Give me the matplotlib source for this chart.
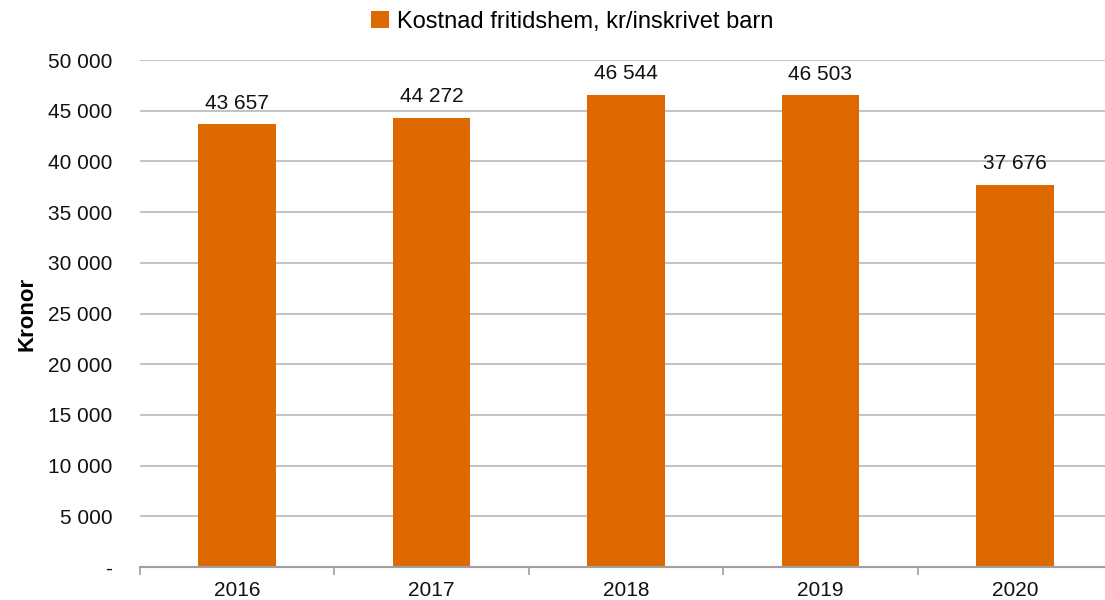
import numpy as np
import matplotlib.pyplot as plt
from matplotlib.ticker import FuncFormatter, FixedLocator

plt.rcParams['font.family'] = ['Liberation Sans', 'DejaVu Sans']

years = ['2016', '2017', '2018', '2019', '2020']
cost = [43657, 44272, 46544, 46503, 37676]
series_name = 'Kostnad fritidshem, kr/inskrivet barn'

bar_color = '#DD6900'
grid_color = '#C4C4C4'
fs = 15

def fmt_kr(v, pos=None):
    v = int(round(v))
    if v == 0:
        return '-'
    return f'{v:,}'.replace(',', ' ')

fig = plt.figure(figsize=(11.05, 6), dpi=100)
ax = fig.add_axes([140 / 1105, 33 / 600, 972 / 1105, 507 / 600])

x = np.arange(len(years))
ax.bar(x, cost, width=0.4, color=bar_color, label=series_name, zorder=3)

for xi, v in zip(x, cost):
    ax.annotate(fmt_kr(v), (xi, v), xytext=(0, 8.5), textcoords='offset points',
                ha='center', va='bottom', fontsize=fs, color='#111111')

ax.set_xlim(-0.5, len(years) - 0.5)
ax.set_ylim(0, 50000)
ax.set_yticks(np.arange(0, 50001, 5000))
ax.yaxis.set_major_formatter(FuncFormatter(fmt_kr))
ax.yaxis.grid(True, color=grid_color, linewidth=1.5, zorder=0)
ax.tick_params(axis='y', length=0, labelsize=fs, pad=20, labelcolor='#111111')

ax.set_xticks(x)
ax.set_xticklabels(years)
ax.tick_params(axis='x', length=0, labelsize=fs, pad=10, labelcolor='#111111')
ax.xaxis.set_minor_locator(FixedLocator(np.arange(-0.5, len(years), 1.0)))
ax.tick_params(axis='x', which='minor', length=6, width=1.2, color='#A0A0A0', direction='out')

for side in ['top', 'right', 'left']:
    ax.spines[side].set_visible(False)
ax.spines['bottom'].set_color('#A0A0A0')
ax.spines['bottom'].set_linewidth(1.5)
ax.spines['bottom'].set_zorder(4)

ax.set_ylabel('Kronor', fontsize=16, fontweight='bold')
ax.yaxis.set_label_coords(-102 / 972, 0.5)

fig.legend(loc='center', bbox_to_anchor=(572 / 1105, 1 - 22 / 600), frameon=False,
           fontsize=17, handlelength=0.75, handleheight=0.75, handletextpad=0.35)

fig.savefig('out.png', dpi=100)
